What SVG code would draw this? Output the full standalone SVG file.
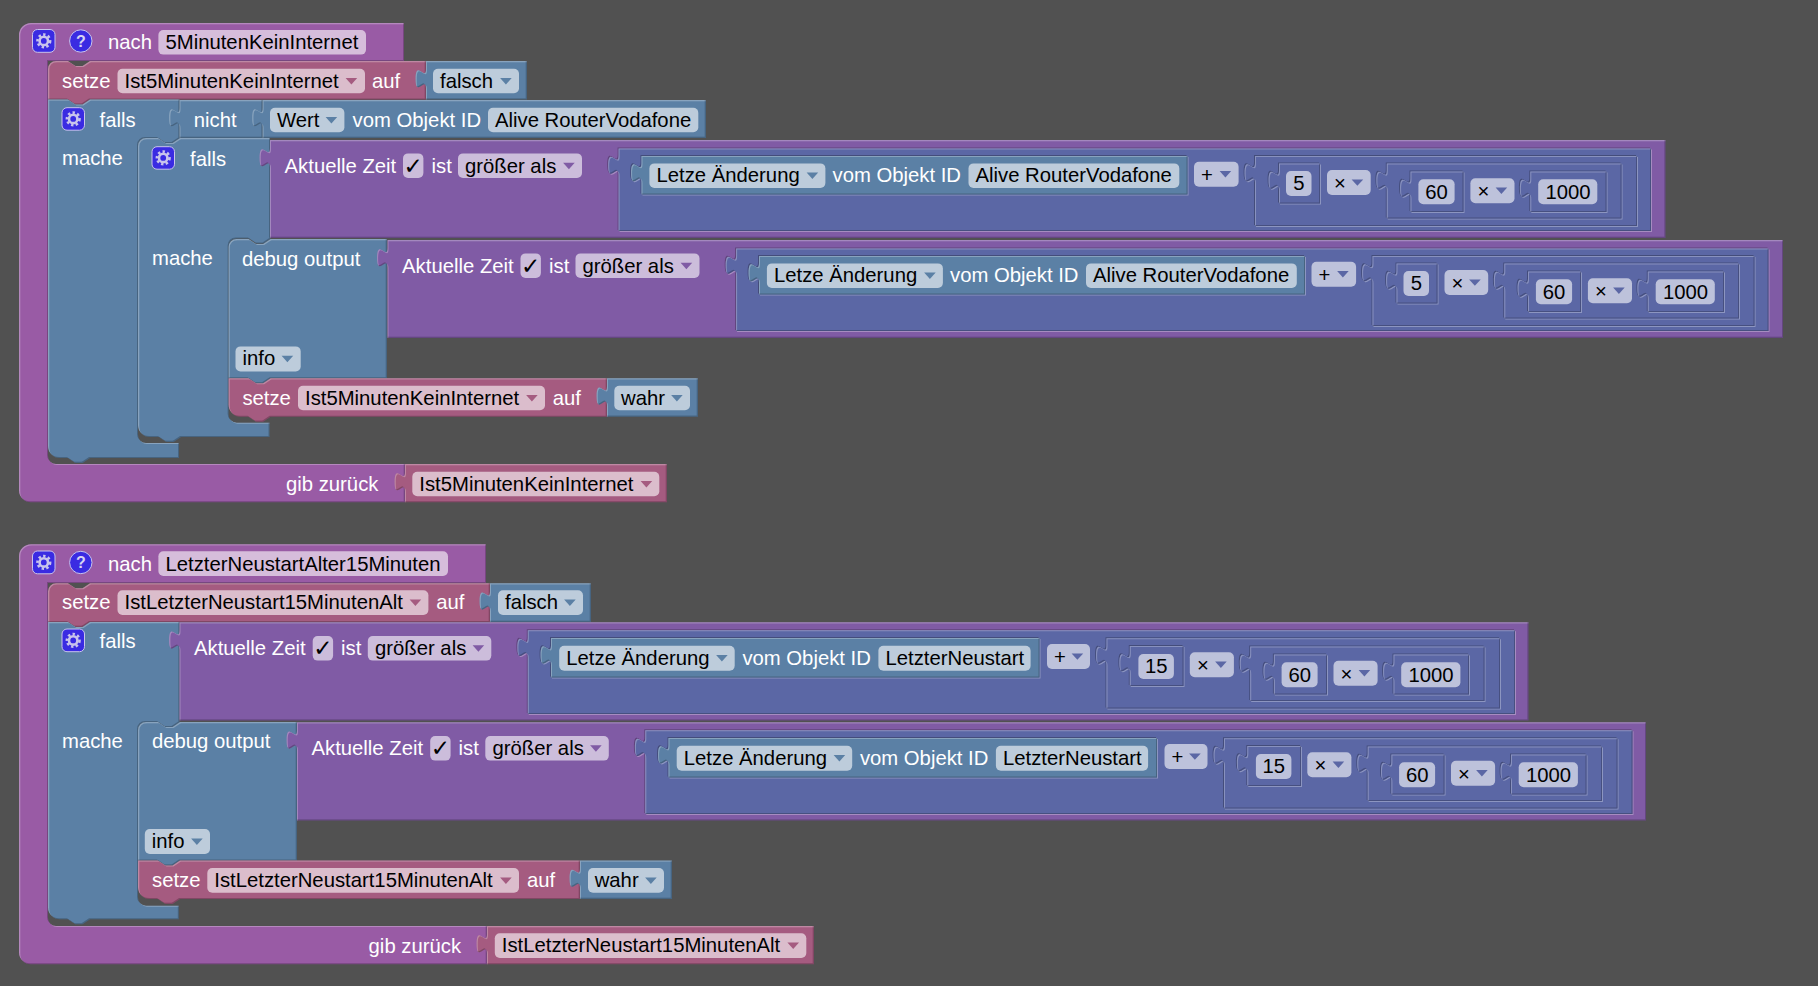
<svg xmlns="http://www.w3.org/2000/svg" width="1818" height="986" viewBox="0 0 1818 986">
<style>
text{font-family:"Liberation Sans",Arial,sans-serif;font-size:20.3px}
.l{fill:#fff}.d{fill:#000}
.hat{fill:#995ba5;filter:url(#bevel)}
.var{fill:#a55b80;filter:url(#bevel)}
.log{fill:#5b80a5;filter:url(#bevel)}
.cmp{fill:#805ba5;filter:url(#bevel)}
.mth{fill:#5b67a5;filter:url(#inset)}
.obj{fill:#5b80a5;filter:url(#inset)}
.fld{fill:#fff;fill-opacity:.6}
.ic{fill:#3a2be2;stroke:#c9c4ec;stroke-width:1}
.g1{fill:none;stroke:#c9c4ec;stroke-width:2.6}
.g2{fill:none;stroke:#c9c4ec;stroke-width:2.6;stroke-dasharray:2.4 2.31}
.q{font-size:16px;font-weight:bold;fill:#d8d4f2;text-anchor:middle}
.ck{font-family:"DejaVu Sans",sans-serif;font-size:23px;font-weight:bold;text-anchor:middle;fill:#000}
.ah{fill:#995ba5}.av{fill:#a55b80}.ab{fill:#5b80a5}.ac{fill:#805ba5}.am{fill:#5b67a5}
</style>
<defs>
<filter id="bevel" x="-5%" y="-5%" width="110%" height="110%" color-interpolation-filters="sRGB">
<feOffset in="SourceAlpha" dx="1.3" dy="1.3" result="a"/>
<feComposite in="SourceAlpha" in2="a" operator="out" result="ea"/>
<feFlood flood-color="#fff" flood-opacity=".28"/><feComposite in2="ea" operator="in" result="li"/>
<feOffset in="SourceAlpha" dx="-1.3" dy="-1.3" result="b"/>
<feComposite in="SourceAlpha" in2="b" operator="out" result="eb"/>
<feFlood flood-color="#000" flood-opacity=".22"/><feComposite in2="eb" operator="in" result="da"/>
<feMerge><feMergeNode in="SourceGraphic"/><feMergeNode in="li"/><feMergeNode in="da"/></feMerge>
</filter>
<filter id="inset" x="-5%" y="-5%" width="110%" height="110%" color-interpolation-filters="sRGB">
<feOffset in="SourceAlpha" dx="1.3" dy="1.3" result="a"/>
<feComposite in="SourceAlpha" in2="a" operator="out" result="ea"/>
<feFlood flood-color="#fff" flood-opacity=".28"/><feComposite in2="ea" operator="in" result="li"/>
<feOffset in="SourceAlpha" dx="-1.3" dy="-1.3" result="b"/>
<feComposite in="SourceAlpha" in2="b" operator="out" result="eb"/>
<feFlood flood-color="#000" flood-opacity=".22"/><feComposite in2="eb" operator="in" result="da"/>
<feComposite in="a" in2="SourceAlpha" operator="out" result="oa"/>
<feFlood flood-color="#fff" flood-opacity=".3"/><feComposite in2="oa" operator="in" result="ol"/>
<feComposite in="b" in2="SourceAlpha" operator="out" result="ob"/>
<feFlood flood-color="#000" flood-opacity=".25"/><feComposite in2="ob" operator="in" result="od"/>
<feMerge><feMergeNode in="ol"/><feMergeNode in="od"/><feMergeNode in="SourceGraphic"/><feMergeNode in="li"/><feMergeNode in="da"/></feMerge>
</filter>
<path id="ar" d="M-0.4,-0.4H11.2L5.4,6Z"/>
<g id="gear"><circle class="g1" cx="11.2" cy="11.2" r="4.2"/><circle class="g2" cx="11.2" cy="11.2" r="6.3"/></g>
</defs>
<rect width="1818" height="986" fill="#515151"/>

<g id="hat1">
<path class="hat" d="M19,35a12,12 0 0 1 12,-12H404V61H48V456a8,8 0 0 0 8,8H405V502.3H31a12,12 0 0 1 -12,-12Z"/>
<rect class="ic" x="32.5" y="29.5" width="22.5" height="22.8" rx="5"/><use href="#gear" x="32.6" y="29.7"/>
<circle class="ic" cx="80.8" cy="41" r="11.2"/><text class="q" x="80.8" y="46.5">?</text>
<text class="l" x="108" y="49">nach</text>
<rect class="fld" x="158.4" y="30" width="207.6" height="24.6" rx="5"/><text class="d" x="165.5" y="49">5MinutenKeinInternet</text>
<text class="l" x="286" y="491">gib zurück</text>
</g>
<g id="var-return1">
<path class="var" d="M405,464H667V502.3H405V491.5c0,-13 -10.4,10.4 -10.4,-9.75s10.4,3.25 10.4,-9.75Z"/>
<rect class="fld" x="412.3" y="471.7" width="247" height="24.6" rx="5"/><text class="d" x="419.3" y="490.6">Ist5MinutenKeinInternet</text>
<use href="#ar" class="av" x="641" y="481.5"/>
</g>
<g id="set1">
<path class="var" d="M48,69a8,8 0 0 1 8,-8H68l7.5,5h7l7.5,-5H426V99.5H90l-7.5,5h-7l-7.5,-5H48Z"/>
<text class="l" x="62" y="87.5">setze</text>
<rect class="fld" x="117.5" y="68.7" width="247.5" height="24.6" rx="5"/><text class="d" x="124.5" y="87.5">Ist5MinutenKeinInternet</text>
<use href="#ar" class="av" x="346" y="78.5"/>
<text class="l" x="372" y="87.5">auf</text>
</g>
<g id="false1">
<path class="log" d="M426,61H527V99.5H426V88.5c0,-13 -10.4,10.4 -10.4,-9.75s10.4,3.25 10.4,-9.75Z"/>
<rect class="fld" x="433" y="68.7" width="86" height="24.6" rx="5"/><text class="d" x="440" y="87.5">falsch</text>
<use href="#ar" class="ab" x="500.5" y="78.5"/>
</g>
<g id="if1">
<path class="log" d="M48,99.5H68l7.5,5h7l7.5,-5H179.5V138H180l-7.5,5h-7l-7.5,-5H146a8,8 0 0 0 -8,8V435a8,8 0 0 0 8,8H179V458H90l-7.5,5h-7l-7.5,-5H60a12,12 0 0 1 -12,-12Z"/>
<rect class="ic" x="62" y="107.7" width="22.5" height="22.5" rx="5"/><use href="#gear" x="62" y="107.7"/>
<text class="l" x="99.6" y="126.5">falls</text>
<text class="l" x="62" y="165">mache</text>
</g>
<g id="not1">
<path class="log" d="M179.5,100H262.6V138H179.5V127.5c0,-13 -10.4,10.4 -10.4,-9.75s10.4,3.25 10.4,-9.75Z"/>
<text class="l" x="193.8" y="126.5">nicht</text>
</g>
<g id="value1">
<path class="log" d="M262.6,100H706V138H262.6V127.5c0,-13 -10.4,10.4 -10.4,-9.75s10.4,3.25 10.4,-9.75Z"/>
<rect class="fld" x="270" y="107.7" width="74.4" height="24.6" rx="5"/><text class="d" x="277" y="126.5">Wert</text>
<use href="#ar" class="ab" x="326" y="117.5"/>
<text class="l" x="352.6" y="126.5">vom Objekt ID</text>
<rect class="fld" x="488" y="107.7" width="210.3" height="24.6" rx="5"/><text class="d" x="495" y="126.5">Alive RouterVodafone</text>
</g>
<g id="if2">
<path class="log" d="M138,146a8,8 0 0 1 8,-8H158l7.5,5h7l7.5,-5H270V238.5H271l-7.5,5h-7l-7.5,-5H236.6a8,8 0 0 0 -8,8V414.7a8,8 0 0 0 8,8H269.5V437H181l-7.5,5h-7l-7.5,-5H150a12,12 0 0 1 -12,-12Z"/>
<rect class="ic" x="152" y="146.7" width="22.5" height="22.5" rx="5"/><use href="#gear" x="152" y="146.7"/>
<text class="l" x="190" y="166">falls</text>
<text class="l" x="152" y="264.5">mache</text>
</g>
<g id="compare1a">
<path class="cmp" d="M270,140H1665.5V238H270V167.5c0,-13 -10.4,10.4 -10.4,-9.75s10.4,3.25 10.4,-9.75Z"/>
<text class="l" x="284.6" y="173">Aktuelle Zeit</text>
<rect class="fld" x="403" y="153.4" width="20.4" height="24.6" rx="5"/><text class="ck" x="413.2" y="174">✓</text>
<text class="l" x="431.6" y="173">ist</text>
<rect class="fld" x="458" y="153.4" width="124" height="24.6" rx="5"/><text class="d" x="465" y="173">größer als</text>
<use href="#ar" class="ac" x="563.5" y="163.2"/>
<path class="mth" d="M618.6,148.5H1651V231H618.6V175c0,-13 -10.4,10.4 -10.4,-9.75s10.4,3.25 10.4,-9.75Z"/>
<path class="obj" d="M641.5,156H1187.5V194.5H641.5V182.5c0,-13 -10.4,10.4 -10.4,-9.75s10.4,3.25 10.4,-9.75Z"/>
<rect class="fld" x="649.4" y="163.4" width="176" height="24.6" rx="5"/><text class="d" x="656.5" y="182.2">Letze Änderung</text>
<use href="#ar" class="ab" x="807" y="173"/>
<text class="l" x="832.5" y="182.2">vom Objekt ID</text>
<rect class="fld" x="968.5" y="163.4" width="210.8" height="24.6" rx="5"/><text class="d" x="975.5" y="182.2">Alive RouterVodafone</text>
<rect class="fld" x="1194" y="161.7" width="44.6" height="25" rx="5"/><text class="d" x="1201" y="181.5">+</text>
<use href="#ar" class="am" x="1220" y="171.5"/>
<path class="mth" d="M1255,156H1637V226H1255V182.5c0,-13 -10.4,10.4 -10.4,-9.75s10.4,3.25 10.4,-9.75Z"/>
<path class="mth" d="M1279,163.5H1320V203.5H1279V190c0,-13 -10.4,10.4 -10.4,-9.75s10.4,3.25 10.4,-9.75Z"/>
<rect class="fld" x="1286" y="171" width="25.5" height="25" rx="5"/><text class="d" x="1293.2" y="190.2">5</text>
<rect class="fld" x="1327" y="170" width="43.7" height="25" rx="5"/><text class="d" x="1334" y="190">×</text>
<use href="#ar" class="am" x="1352" y="179.8"/>
<path class="mth" d="M1386.8,163.5H1621.5V218.5H1386.8V190c0,-13 -10.4,10.4 -10.4,-9.75s10.4,3.25 10.4,-9.75Z"/>
<path class="mth" d="M1410.5,171.5H1463.5V212H1410.5V198c0,-13 -10.4,10.4 -10.4,-9.75s10.4,3.25 10.4,-9.75Z"/>
<rect class="fld" x="1418.4" y="179.3" width="36.2" height="25" rx="5"/><text class="d" x="1425.3" y="198.5">60</text>
<rect class="fld" x="1470.4" y="178.3" width="44.1" height="25" rx="5"/><text class="d" x="1477.4" y="198">×</text>
<use href="#ar" class="am" x="1496" y="188"/>
<path class="mth" d="M1530.3,171.5H1606.5V212H1530.3V198c0,-13 -10.4,10.4 -10.4,-9.75s10.4,3.25 10.4,-9.75Z"/>
<rect class="fld" x="1538.2" y="179.3" width="59.1" height="25" rx="5"/><text class="d" x="1545.5" y="198.5">1000</text>
</g>
<g id="debug1">
<path class="log" d="M228.6,247a8,8 0 0 1 8,-8H248.6l7.5,5h7l7.5,-5H387V378.3H270.6l-7.5,5h-7l-7.5,-5H228.6Z"/>
<text class="l" x="242" y="266">debug output</text>
<rect class="fld" x="235.5" y="346.4" width="65.2" height="25" rx="5"/><text class="d" x="242.5" y="365.2">info</text>
<use href="#ar" class="ab" x="282" y="356.2"/>
</g>
<g id="compare1b" transform="translate(117.5,100)">
<path class="cmp" d="M270,140H1665.5V238H270V167.5c0,-13 -10.4,10.4 -10.4,-9.75s10.4,3.25 10.4,-9.75Z"/>
<text class="l" x="284.6" y="173">Aktuelle Zeit</text>
<rect class="fld" x="403" y="153.4" width="20.4" height="24.6" rx="5"/><text class="ck" x="413.2" y="174">✓</text>
<text class="l" x="431.6" y="173">ist</text>
<rect class="fld" x="458" y="153.4" width="124" height="24.6" rx="5"/><text class="d" x="465" y="173">größer als</text>
<use href="#ar" class="ac" x="563.5" y="163.2"/>
<path class="mth" d="M618.6,148.5H1651V231H618.6V175c0,-13 -10.4,10.4 -10.4,-9.75s10.4,3.25 10.4,-9.75Z"/>
<path class="obj" d="M641.5,156H1187.5V194.5H641.5V182.5c0,-13 -10.4,10.4 -10.4,-9.75s10.4,3.25 10.4,-9.75Z"/>
<rect class="fld" x="649.4" y="163.4" width="176" height="24.6" rx="5"/><text class="d" x="656.5" y="182.2">Letze Änderung</text>
<use href="#ar" class="ab" x="807" y="173"/>
<text class="l" x="832.5" y="182.2">vom Objekt ID</text>
<rect class="fld" x="968.5" y="163.4" width="210.8" height="24.6" rx="5"/><text class="d" x="975.5" y="182.2">Alive RouterVodafone</text>
<rect class="fld" x="1194" y="161.7" width="44.6" height="25" rx="5"/><text class="d" x="1201" y="181.5">+</text>
<use href="#ar" class="am" x="1220" y="171.5"/>
<path class="mth" d="M1255,156H1637V226H1255V182.5c0,-13 -10.4,10.4 -10.4,-9.75s10.4,3.25 10.4,-9.75Z"/>
<path class="mth" d="M1279,163.5H1320V203.5H1279V190c0,-13 -10.4,10.4 -10.4,-9.75s10.4,3.25 10.4,-9.75Z"/>
<rect class="fld" x="1286" y="171" width="25.5" height="25" rx="5"/><text class="d" x="1293.2" y="190.2">5</text>
<rect class="fld" x="1327" y="170" width="43.7" height="25" rx="5"/><text class="d" x="1334" y="190">×</text>
<use href="#ar" class="am" x="1352" y="179.8"/>
<path class="mth" d="M1386.8,163.5H1621.5V218.5H1386.8V190c0,-13 -10.4,10.4 -10.4,-9.75s10.4,3.25 10.4,-9.75Z"/>
<path class="mth" d="M1410.5,171.5H1463.5V212H1410.5V198c0,-13 -10.4,10.4 -10.4,-9.75s10.4,3.25 10.4,-9.75Z"/>
<rect class="fld" x="1418.4" y="179.3" width="36.2" height="25" rx="5"/><text class="d" x="1425.3" y="198.5">60</text>
<rect class="fld" x="1470.4" y="178.3" width="44.1" height="25" rx="5"/><text class="d" x="1477.4" y="198">×</text>
<use href="#ar" class="am" x="1496" y="188"/>
<path class="mth" d="M1530.3,171.5H1606.5V212H1530.3V198c0,-13 -10.4,10.4 -10.4,-9.75s10.4,3.25 10.4,-9.75Z"/>
<rect class="fld" x="1538.2" y="179.3" width="59.1" height="25" rx="5"/><text class="d" x="1545.5" y="198.5">1000</text>
</g>
<g id="set2">
<path class="var" d="M228.6,378.3H248.6l7.5,5h7l7.5,-5H607V416.7H270.6l-7.5,5h-7l-7.5,-5H240.6a12,12 0 0 1 -12,-12Z"/>
<text class="l" x="242.4" y="404.5">setze</text>
<rect class="fld" x="298" y="385.7" width="247" height="24.6" rx="5"/><text class="d" x="305" y="404.5">Ist5MinutenKeinInternet</text>
<use href="#ar" class="av" x="526.5" y="395.5"/>
<text class="l" x="552.8" y="404.5">auf</text>
</g>
<g id="true1">
<path class="log" d="M607,378.3H698V416.7H607V405.8c0,-13 -10.4,10.4 -10.4,-9.75s10.4,3.25 10.4,-9.75Z"/>
<rect class="fld" x="614.3" y="385.7" width="75.7" height="24.6" rx="5"/><text class="d" x="621" y="404.5">wahr</text>
<use href="#ar" class="ab" x="671.5" y="395.5"/>
</g>

<g id="hat2">
<path class="hat" d="M19,556.3a12,12 0 0 1 12,-12H486V583H48V918a8,8 0 0 0 8,8H487V964.3H31a12,12 0 0 1 -12,-12Z"/>
<rect class="ic" x="32.5" y="551" width="22.5" height="22.8" rx="5"/><use href="#gear" x="32.6" y="551.2"/>
<circle class="ic" cx="80.8" cy="562.5" r="11.2"/><text class="q" x="80.8" y="568">?</text>
<text class="l" x="108" y="570.5">nach</text>
<rect class="fld" x="158.4" y="551.3" width="289.6" height="24.6" rx="5"/><text class="d" x="165.5" y="570.5">LetzterNeustartAlter15Minuten</text>
<text class="l" x="368.6" y="953">gib zurück</text>
</g>
<g id="var-return2">
<path class="var" d="M487,926H814V964.3H487V953.5c0,-13 -10.4,10.4 -10.4,-9.75s10.4,3.25 10.4,-9.75Z"/>
<rect class="fld" x="494.8" y="933.3" width="311.5" height="24.6" rx="5"/><text class="d" x="501.8" y="952.2">IstLetzterNeustart15MinutenAlt</text>
<use href="#ar" class="av" x="787.8" y="943"/>
</g>
<g id="set3">
<path class="var" d="M48,591.3a8,8 0 0 1 8,-8H68l7.5,5h7l7.5,-5H490V622H90l-7.5,5h-7l-7.5,-5H48Z"/>
<text class="l" x="62" y="609">setze</text>
<rect class="fld" x="117.5" y="590.3" width="310.9" height="24.6" rx="5"/><text class="d" x="124.5" y="609">IstLetzterNeustart15MinutenAlt</text>
<use href="#ar" class="av" x="410" y="600"/>
<text class="l" x="436.2" y="609">auf</text>
</g>
<g id="false2">
<path class="log" d="M490,583.3H591V622H490V610.8c0,-13 -10.4,10.4 -10.4,-9.75s10.4,3.25 10.4,-9.75Z"/>
<rect class="fld" x="498" y="590.3" width="85" height="24.6" rx="5"/><text class="d" x="505" y="609">falsch</text>
<use href="#ar" class="ab" x="564.5" y="600"/>
</g>
<g id="if3">
<path class="log" d="M48,622H68l7.5,5h7l7.5,-5H179.5V722H180l-7.5,5h-7l-7.5,-5H146a8,8 0 0 0 -8,8V897.7a8,8 0 0 0 8,8H178.8V919.3H90l-7.5,5h-7l-7.5,-5H60a12,12 0 0 1 -12,-12Z"/>
<rect class="ic" x="62" y="629" width="22.5" height="22.7" rx="5"/><use href="#gear" x="62" y="629.2"/>
<text class="l" x="99.6" y="648">falls</text>
<text class="l" x="62" y="748">mache</text>
</g>
<g id="compare2a">
<path class="cmp" d="M179.5,622.3H1528.5V720.6H179.5V649.8c0,-13 -10.4,10.4 -10.4,-9.75s10.4,3.25 10.4,-9.75Z"/>
<text class="l" x="194" y="655">Aktuelle Zeit</text>
<rect class="fld" x="312.7" y="636" width="20.4" height="24.6" rx="5"/><text class="ck" x="322.9" y="656">✓</text>
<text class="l" x="341" y="655">ist</text>
<rect class="fld" x="367.8" y="636" width="123.5" height="24.6" rx="5"/><text class="d" x="375" y="655">größer als</text>
<use href="#ar" class="ac" x="473" y="645.7"/>
<path class="mth" d="M527.8,630.3H1515V714H527.8V657.2c0,-13 -10.4,10.4 -10.4,-9.75s10.4,3.25 10.4,-9.75Z"/>
<path class="obj" d="M551,638H1039.5V677.5H551V664.7c0,-13 -10.4,10.4 -10.4,-9.75s10.4,3.25 10.4,-9.75Z"/>
<rect class="fld" x="559.2" y="645.7" width="175.5" height="25" rx="5"/><text class="d" x="566.3" y="664.5">Letze Änderung</text>
<use href="#ar" class="ab" x="716.5" y="655.5"/>
<text class="l" x="742.4" y="664.5">vom Objekt ID</text>
<rect class="fld" x="878.4" y="645.7" width="152.2" height="25" rx="5"/><text class="d" x="885.5" y="664.5">LetzterNeustart</text>
<rect class="fld" x="1047" y="644" width="43" height="25" rx="5"/><text class="d" x="1054" y="663.8">+</text>
<use href="#ar" class="am" x="1072" y="653.8"/>
<path class="mth" d="M1106.5,638.3H1500V708.5H1106.5V665c0,-13 -10.4,10.4 -10.4,-9.75s10.4,3.25 10.4,-9.75Z"/>
<path class="mth" d="M1129.8,646H1183.5V686H1129.8V672.5c0,-13 -10.4,10.4 -10.4,-9.75s10.4,3.25 10.4,-9.75Z"/>
<rect class="fld" x="1138.4" y="654" width="35.5" height="25" rx="5"/><text class="d" x="1145" y="673.2">15</text>
<rect class="fld" x="1189.8" y="652.3" width="44.1" height="25" rx="5"/><text class="d" x="1197" y="672">×</text>
<use href="#ar" class="am" x="1215.5" y="662"/>
<path class="mth" d="M1250.2,646.5H1484.5V701H1250.2V673c0,-13 -10.4,10.4 -10.4,-9.75s10.4,3.25 10.4,-9.75Z"/>
<path class="mth" d="M1273.9,654.5H1327V694.5H1273.9V681c0,-13 -10.4,10.4 -10.4,-9.75s10.4,3.25 10.4,-9.75Z"/>
<rect class="fld" x="1281.6" y="662.3" width="36" height="25" rx="5"/><text class="d" x="1288.5" y="681.5">60</text>
<rect class="fld" x="1333.5" y="660.7" width="44.1" height="25" rx="5"/><text class="d" x="1340.5" y="680.5">×</text>
<use href="#ar" class="am" x="1359" y="670.5"/>
<path class="mth" d="M1393.5,654.5H1469V694.5H1393.5V681c0,-13 -10.4,10.4 -10.4,-9.75s10.4,3.25 10.4,-9.75Z"/>
<rect class="fld" x="1401.2" y="662.3" width="59.2" height="25" rx="5"/><text class="d" x="1408.5" y="681.5">1000</text>
</g>
<g id="debug2">
<path class="log" d="M138,730a8,8 0 0 1 8,-8H158l7.5,5h7l7.5,-5H297V860.5H180l-7.5,5h-7l-7.5,-5H138Z"/>
<text class="l" x="152" y="748">debug output</text>
<rect class="fld" x="144.8" y="829" width="65.2" height="25" rx="5"/><text class="d" x="151.8" y="848">info</text>
<use href="#ar" class="ab" x="191.5" y="839"/>
</g>
<g id="compare2b" transform="translate(117.5,100)">
<path class="cmp" d="M179.5,622.3H1528.5V720.6H179.5V649.8c0,-13 -10.4,10.4 -10.4,-9.75s10.4,3.25 10.4,-9.75Z"/>
<text class="l" x="194" y="655">Aktuelle Zeit</text>
<rect class="fld" x="312.7" y="636" width="20.4" height="24.6" rx="5"/><text class="ck" x="322.9" y="656">✓</text>
<text class="l" x="341" y="655">ist</text>
<rect class="fld" x="367.8" y="636" width="123.5" height="24.6" rx="5"/><text class="d" x="375" y="655">größer als</text>
<use href="#ar" class="ac" x="473" y="645.7"/>
<path class="mth" d="M527.8,630.3H1515V714H527.8V657.2c0,-13 -10.4,10.4 -10.4,-9.75s10.4,3.25 10.4,-9.75Z"/>
<path class="obj" d="M551,638H1039.5V677.5H551V664.7c0,-13 -10.4,10.4 -10.4,-9.75s10.4,3.25 10.4,-9.75Z"/>
<rect class="fld" x="559.2" y="645.7" width="175.5" height="25" rx="5"/><text class="d" x="566.3" y="664.5">Letze Änderung</text>
<use href="#ar" class="ab" x="716.5" y="655.5"/>
<text class="l" x="742.4" y="664.5">vom Objekt ID</text>
<rect class="fld" x="878.4" y="645.7" width="152.2" height="25" rx="5"/><text class="d" x="885.5" y="664.5">LetzterNeustart</text>
<rect class="fld" x="1047" y="644" width="43" height="25" rx="5"/><text class="d" x="1054" y="663.8">+</text>
<use href="#ar" class="am" x="1072" y="653.8"/>
<path class="mth" d="M1106.5,638.3H1500V708.5H1106.5V665c0,-13 -10.4,10.4 -10.4,-9.75s10.4,3.25 10.4,-9.75Z"/>
<path class="mth" d="M1129.8,646H1183.5V686H1129.8V672.5c0,-13 -10.4,10.4 -10.4,-9.75s10.4,3.25 10.4,-9.75Z"/>
<rect class="fld" x="1138.4" y="654" width="35.5" height="25" rx="5"/><text class="d" x="1145" y="673.2">15</text>
<rect class="fld" x="1189.8" y="652.3" width="44.1" height="25" rx="5"/><text class="d" x="1197" y="672">×</text>
<use href="#ar" class="am" x="1215.5" y="662"/>
<path class="mth" d="M1250.2,646.5H1484.5V701H1250.2V673c0,-13 -10.4,10.4 -10.4,-9.75s10.4,3.25 10.4,-9.75Z"/>
<path class="mth" d="M1273.9,654.5H1327V694.5H1273.9V681c0,-13 -10.4,10.4 -10.4,-9.75s10.4,3.25 10.4,-9.75Z"/>
<rect class="fld" x="1281.6" y="662.3" width="36" height="25" rx="5"/><text class="d" x="1288.5" y="681.5">60</text>
<rect class="fld" x="1333.5" y="660.7" width="44.1" height="25" rx="5"/><text class="d" x="1340.5" y="680.5">×</text>
<use href="#ar" class="am" x="1359" y="670.5"/>
<path class="mth" d="M1393.5,654.5H1469V694.5H1393.5V681c0,-13 -10.4,10.4 -10.4,-9.75s10.4,3.25 10.4,-9.75Z"/>
<rect class="fld" x="1401.2" y="662.3" width="59.2" height="25" rx="5"/><text class="d" x="1408.5" y="681.5">1000</text>
</g>
<g id="set4">
<path class="var" d="M138,860.5H158l7.5,5h7l7.5,-5H580V899H180l-7.5,5h-7l-7.5,-5H150a12,12 0 0 1 -12,-12Z"/>
<text class="l" x="152" y="886.5">setze</text>
<rect class="fld" x="207.3" y="868" width="311.7" height="24.7" rx="5"/><text class="d" x="214.3" y="886.8">IstLetzterNeustart15MinutenAlt</text>
<use href="#ar" class="av" x="500.5" y="878"/>
<text class="l" x="527" y="886.5">auf</text>
</g>
<g id="true2">
<path class="log" d="M580,860.5H672V899H580V888c0,-13 -10.4,10.4 -10.4,-9.75s10.4,3.25 10.4,-9.75Z"/>
<rect class="fld" x="588" y="868" width="76" height="24.7" rx="5"/><text class="d" x="594.7" y="886.8">wahr</text>
<use href="#ar" class="ab" x="645.5" y="878"/>
</g>
</svg>
